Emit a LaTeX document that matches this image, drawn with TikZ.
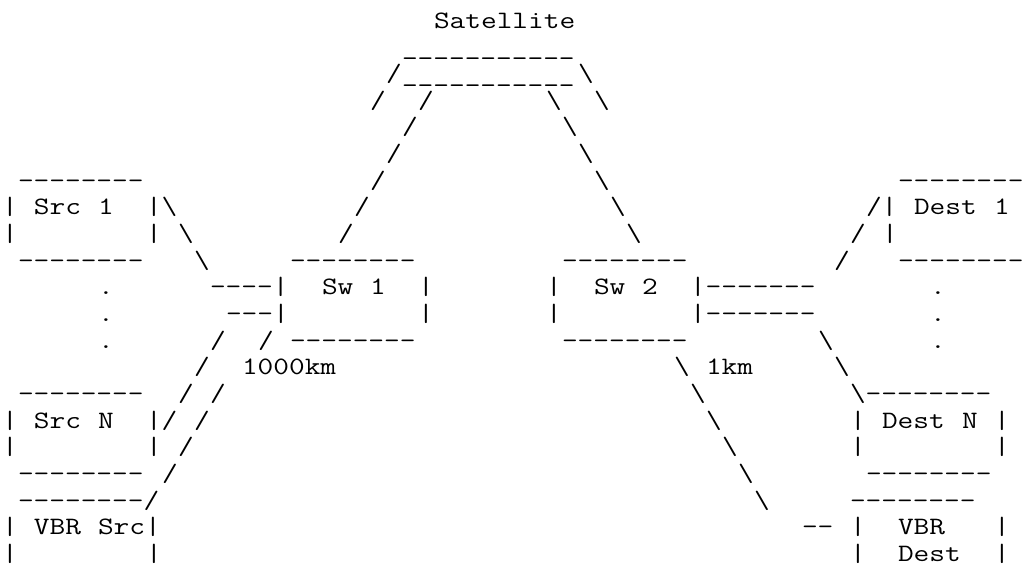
\documentclass[tikz,border=0pt]{standalone}
\usepackage{fontspec}
\usepackage{graphicx}
\def\bs{\textbackslash}
\tikzset{txt/.style={anchor=base west,inner sep=0pt,outer sep=0pt,font=\fontsize{25}{26.67}\selectfont\ttfamily}}
% character pitch 16pt: Latin Modern Mono is 0.525em wide, so stretch it
\newcommand\T[4]{\node[txt] (#1) at ({2+16*#2},{-28-26.667*#3}) {\scalebox{1.219}[1]{#4}};}
\newcommand\U[3]{\node[txt] (#1) at ({2+16*#2},{-28-26.667*#3}) {\scalebox{1.219}[1]{\_\_\_\_\_\_\_\_\_\_\_}};}
\begin{document}
\begin{tikzpicture}[x=1pt,y=1pt]
\useasboundingbox (0,0) rectangle (1029,-579);
% rows 0-5: satellite
\T{sat}{27}{0}{Satellite}
\U{ua}{25}{1}
\T{s2a}{24}{2}{/}
\U{ub}{25}{2}
\T{s2b}{36}{2}{\bs}
\T{s3a}{23}{3}{/}
\T{s3b}{26}{3}{/}
\T{s3c}{34}{3}{\bs}
\T{s3d}{37}{3}{\bs}
\T{s4a}{25}{4}{/}
\T{s4b}{35}{4}{\bs}
\T{s5a}{24}{5}{/}
\T{s5b}{36}{5}{\bs}
% row 6
\T{r6a}{1}{6}{--------}
\T{r6b}{23}{6}{/}
\T{r6c}{37}{6}{\bs}
\T{r6d}{56}{6}{--------}
% row 7
\T{r7a}{0}{7}{|}
\T{src1a}{2}{7}{Src}
\T{src1b}{6}{7}{1}
\T{r7b}{9}{7}{|\bs}
\T{r7c}{22}{7}{/}
\T{r7d}{38}{7}{\bs}
\T{r7e}{54}{7}{/|}
\T{dst1a}{57}{7}{Dest}
\T{dst1b}{62}{7}{1}
% row 8
\T{r8a}{0}{8}{|}
\T{r8b}{9}{8}{|}
\T{r8c}{11}{8}{\bs}
\T{r8d}{21}{8}{/}
\T{r8e}{39}{8}{\bs}
\T{r8f}{53}{8}{/}
\T{r8g}{55}{8}{|}
% row 9
\T{r9a}{1}{9}{--------}
\T{r9b}{12}{9}{\bs}
\T{r9c}{18}{9}{--------}
\T{r9d}{35}{9}{--------}
\T{r9e}{52}{9}{/}
\T{r9f}{56}{9}{--------}
% row 10
\T{r10a}{6}{10}{.}
\T{r10b}{13}{10}{----|}
\T{sw1a}{20}{10}{Sw}
\T{sw1b}{23}{10}{1}
\T{r10c}{26}{10}{|}
\T{r10d}{34}{10}{|}
\T{sw2a}{37}{10}{Sw}
\T{sw2b}{40}{10}{2}
\T{r10e}{43}{10}{|-------}
\T{r10f}{58}{10}{.}
% row 11
\T{r11a}{6}{11}{.}
\T{r11b}{14}{11}{---|}
\T{r11c}{26}{11}{|}
\T{r11d}{34}{11}{|}
\T{r11e}{43}{11}{|-------}
\T{r11f}{58}{11}{.}
% row 12
\T{r12a}{6}{12}{.}
\T{r12b}{13}{12}{/}
\T{r12c}{16}{12}{/}
\T{r12d}{18}{12}{--------}
\T{r12e}{35}{12}{--------}
\T{r12f}{51}{12}{\bs}
\T{r12g}{58}{12}{.}
% row 13
\T{r13a}{12}{13}{/}
\T{km1000}{15}{13}{1000km}
\T{r13b}{42}{13}{\bs}
\T{km1}{44}{13}{1km}
\T{r13c}{52}{13}{\bs}
% row 14
\T{r14a}{1}{14}{--------}
\T{r14b}{11}{14}{/}
\T{r14c}{13}{14}{/}
\T{r14d}{43}{14}{\bs}
\T{r14e}{53}{14}{\bs--------}
% row 15
\T{r15a}{0}{15}{|}
\T{srcna}{2}{15}{Src}
\T{srcnb}{6}{15}{N}
\T{r15b}{9}{15}{|/}
\T{r15c}{12}{15}{/}
\T{r15d}{44}{15}{\bs}
\T{r15e}{53}{15}{|}
\T{dstna}{55}{15}{Dest}
\T{dstnb}{60}{15}{N}
\T{r15f}{62}{15}{|}
% row 16
\T{r16a}{0}{16}{|}
\T{r16b}{9}{16}{|}
\T{r16c}{11}{16}{/}
\T{r16d}{45}{16}{\bs}
\T{r16e}{53}{16}{|}
\T{r16f}{62}{16}{|}
% row 17
\T{r17a}{1}{17}{--------}
\T{r17b}{10}{17}{/}
\T{r17c}{46}{17}{\bs}
\T{r17d}{54}{17}{--------}
% row 18
\T{r18a}{1}{18}{--------/}
\T{r18b}{47}{18}{\bs}
\T{r18c}{53}{18}{--------}
% row 19
\T{r19a}{0}{19}{|}
\T{vbrsa}{2}{19}{VBR}
\T{vbrsb}{6}{19}{Src|}
\T{r19b}{50}{19}{--}
\T{r19c}{53}{19}{|}
\T{vbrda}{56}{19}{VBR}
\T{r19d}{62}{19}{|}
% row 20
\T{r20a}{0}{20}{|}
\T{r20b}{9}{20}{|}
\T{r20c}{53}{20}{|}
\T{vbrdb}{56}{20}{Dest}
\T{r20d}{62}{20}{|}
\end{tikzpicture}
\end{document}
